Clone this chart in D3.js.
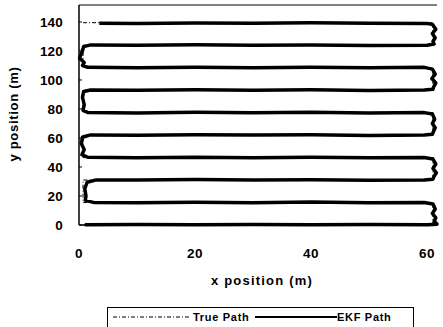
<!DOCTYPE html>
<html><head><meta charset="utf-8">
<script src="https://cdn.jsdelivr.net/npm/d3@7"></script>
<style>
body{margin:0;background:#fff;}
text{font-family:"Liberation Sans",Arial,sans-serif;font-weight:bold;fill:#000;}
</style></head><body>
<svg id="c" width="443" height="327"></svg>
<script>
// tick labels
const xTicks = [0, 20, 40, 60];
const yTicks = [0, 20, 40, 60, 80, 100, 120, 140];
// true path waypoints (x, y) in metres
const trueX = [0.7, 61, 61, 0.7, 0.7, 61, 61, 0.7, 0.7, 61, 61, 0.7, 0.7, 61, 61, 0.7, 0.7, 61, 61, 0.7];
const trueY = [139.5, 139.5, 124, 124, 108.5, 108.5, 93, 93, 77.5, 77.5, 62, 62, 46.5, 46.5, 31, 31, 15.5, 15.5, 0, 0];
// EKF estimated path (x, y) in metres
const ekfX = [3.5, 10, 20, 30, 40, 50, 60, 60.9, 61.5, 60.9, 61.4, 61.0, 61.2, 60,
  50, 40, 30, 20, 10, 2, 0.8, 0.5, 0.1, 0.9, 0.6, 1.5,
  10, 20, 30, 40, 50, 59.5, 60.9, 61.4, 60.8, 61.5, 61.1, 61, 59.5,
  50, 40, 30, 20, 10, 2, 0.8, 0.6, 0.9, 0.7, 1.5,
  10, 20, 30, 40, 50, 59.5, 60.9, 61.3, 60.9, 61.4, 61.1, 60.9, 59.5,
  50, 40, 30, 20, 10, 2, 0.6, 0.4, 0.9, 0.5, 1.5,
  10, 20, 30, 40, 50, 59.5, 61, 61.5, 61.0, 61.6, 61.2, 61, 59.5,
  50, 40, 30, 20, 10, 3, 1.4, 1.0, 1.2, 1.1, 2.5,
  10, 20, 30, 40, 50, 59.5, 61.0, 61.4, 60.9, 61.5, 61.2, 61.7, 60,
  50, 40, 30, 20, 10, 1.0];
const ekfY = [139.2, 139.0, 139.3, 139.1, 139.4, 139.2, 139.0, 138.5, 135, 132, 129, 126.5, 124.8, 124.0,
  123.8, 124.2, 124.0, 124.3, 124.0, 124.2, 123, 119, 115, 112, 110, 108.7,
  108.4, 108.7, 108.5, 108.8, 108.5, 108.7, 107.5, 104, 101, 98, 95, 93.6, 93.1,
  92.8, 93.2, 92.9, 93.3, 93.0, 93.1, 92, 88, 83, 79, 77.6,
  77.3, 77.7, 77.4, 77.8, 77.3, 77.5, 76.5, 73, 70, 67, 64.5, 62.6, 62.1,
  61.8, 62.3, 62.0, 62.2, 61.9, 62.1, 60.5, 56, 52, 48.5, 46.7,
  46.4, 46.8, 46.3, 46.7, 46.4, 46.6, 45.5, 42, 39, 36, 33.5, 31.6, 31.1,
  30.8, 31.2, 31.0, 31.3, 31.0, 31.1, 29.5, 25, 20, 17, 15.6,
  15.3, 15.7, 15.4, 15.8, 15.3, 15.5, 14.5, 11, 8, 5, 2.5, 0.6, 0.2,
  0.3, 0.1, 0.4, 0.2, 0.3, 0.2];
const legendLabels = ["True Path", "EKF Path"];

const svg = d3.select("#c");
const x = d3.scaleLinear().domain([0, 61.7]).range([79, 437]);
const y = d3.scaleLinear().domain([0, 151.7]).range([225, 5]);

// frame: left, bottom, top
svg.append("line").attr("x1", x(0)).attr("x2", x(0)).attr("y1", y(151.7)).attr("y2", y(0)).attr("stroke", "#000").attr("stroke-width", 1.5);
svg.append("line").attr("x1", x(0)).attr("x2", x(61.7)).attr("y1", y(0)).attr("y2", y(0)).attr("stroke", "#000").attr("stroke-width", 1.5);
svg.append("line").attr("x1", x(0)).attr("x2", x(61.7)).attr("y1", y(151.7)).attr("y2", y(151.7)).attr("stroke", "#000").attr("stroke-width", 1.2);

// y ticks (inward) and labels
svg.selectAll(".yt").data(yTicks).enter().append("line")
  .attr("x1", x(0)).attr("x2", x(0) + 3).attr("y1", d => y(d)).attr("y2", d => y(d))
  .attr("stroke", "#000").attr("stroke-width", 1);
svg.selectAll(".yl").data(yTicks).enter().append("text")
  .attr("x", 63).attr("y", d => y(d) + 5).attr("text-anchor", "end")
  .style("font-size", "13.5px").style("letter-spacing", "0.2px").text(d => d);
svg.selectAll(".xl").data(xTicks).enter().append("text")
  .attr("x", d => x(d)).attr("y", 258).attr("text-anchor", "middle")
  .style("font-size", "13.5px").style("letter-spacing", "0.6px").text(d => d);

svg.append("text").attr("x", 262).attr("y", 285).attr("text-anchor", "middle")
  .style("font-size", "13px").style("letter-spacing", "1.2px").text("x position (m)");
svg.append("text").attr("transform", "translate(18,114) rotate(-90)").attr("text-anchor", "middle")
  .style("font-size", "13px").style("letter-spacing", "0.7px").text("y position (m)");

const line = d3.line().x(d => x(d[0])).y(d => y(d[1]));
const truePts = trueX.map((v, i) => [v, trueY[i]]);
const ekfPts = ekfX.map((v, i) => [v, ekfY[i]]);

svg.append("path").attr("d", line(ekfPts)).attr("fill", "none").attr("stroke", "#000")
  .attr("stroke-width", 3.5).attr("stroke-linejoin", "round");
svg.append("path").attr("d", line(truePts)).attr("fill", "none").attr("stroke", "#000")
  .attr("stroke-width", 1).attr("stroke-dasharray", "4,2,1,2");

// legend
const lg = svg.append("g");
lg.append("rect").attr("x", 107.5).attr("y", 307.5).attr("width", 306).attr("height", 30)
  .attr("fill", "#fff").attr("stroke", "#000").attr("stroke-width", 1);
lg.append("line").attr("x1", 113).attr("x2", 190).attr("y1", 317).attr("y2", 317)
  .attr("stroke", "#000").attr("stroke-width", 1).attr("stroke-dasharray", "4,2,1,2");
lg.append("text").attr("x", 193).attr("y", 321).style("font-size", "11px").style("letter-spacing", "0.7px").text(legendLabels[0]);
lg.append("line").attr("x1", 255).attr("x2", 337).attr("y1", 317).attr("y2", 317)
  .attr("stroke", "#000").attr("stroke-width", 2);
lg.append("text").attr("x", 337).attr("y", 321).style("font-size", "11px").style("letter-spacing", "0.7px").text(legendLabels[1]);
</script>
</body></html>
